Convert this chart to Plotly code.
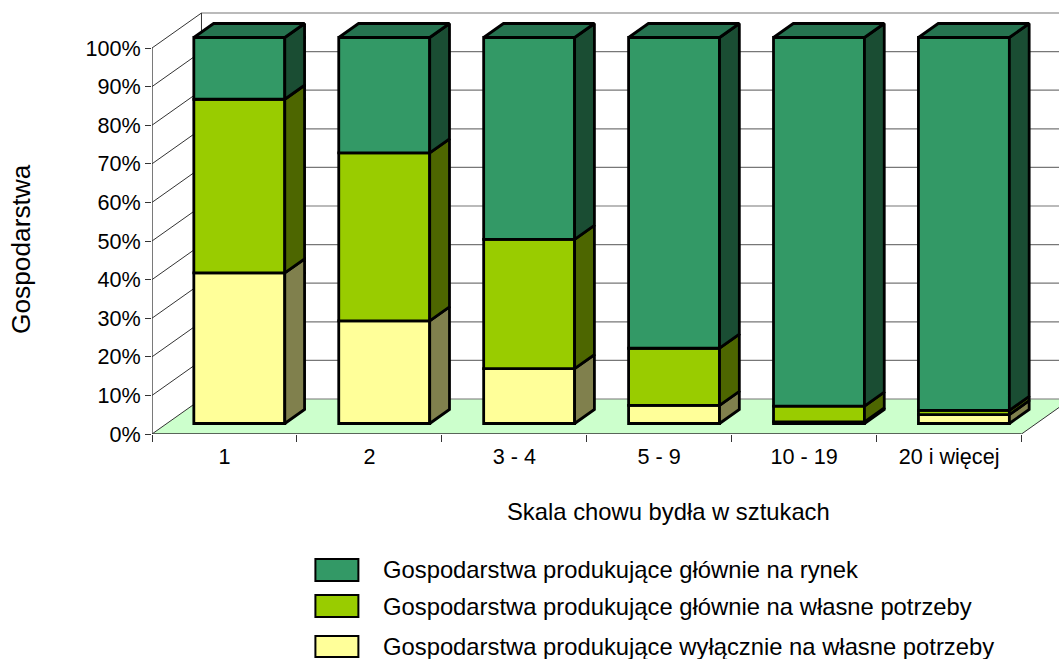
import plotly.graph_objects as go

categories = ["1", "2", "3 - 4", "5 - 9", "10 - 19", "20 i więcej"]
series_names = [
    "Gospodarstwa produkujące wyłącznie na własne potrzeby",
    "Gospodarstwa produkujące głównie na własne potrzeby",
    "Gospodarstwa produkujące głównie na rynek",
]
yellow_vals = [39.0, 26.6, 14.2, 4.7, 0.4, 2.3]
lime_vals = [45.0, 43.5, 33.5, 14.8, 4.1, 1.1]
teal_vals = [16.0, 29.9, 52.3, 80.5, 95.5, 96.6]
y_ticks = list(range(0, 101, 10))

front_cols = ["#FFFF99", "#99CC00", "#339966"]
side_cols = ["#80804D", "#4D6600", "#1A4D33"]
top_col = "#267350"
floor_col = "#CCFFCC"
FONT = "Liberation Sans"

# 3D projection, in axis units
W, H = 1059, 659
L, T, B = 151.5, 10, 225
PX_X, PX_Y = 145.0, 3.86
DX, DY = 49.5 / PX_X, 35.0 / PX_Y
F0, F1 = 0.30, 0.70
BAR_W = 91 / PX_X
X_MAX = (W - L) / PX_X
Y_MAX = (H - B - T) / PX_Y
n = len(categories)

all_vals = [yellow_vals, lime_vals, teal_vals]
fig = go.Figure()
xc = [i + 0.5 + F0 * DX for i in range(n)]
bases = [F0 * DY] * n
seg_bounds = []
for vals, name, col in zip(all_vals, series_names, front_cols):
    fig.add_bar(x=xc, y=vals, base=bases, width=BAR_W, name=name, showlegend=False,
                marker=dict(color=col, line=dict(color="#000000", width=2.8)))
    seg_bounds.append(list(bases))
    bases = [b + v for b, v in zip(bases, vals)]

d_x, d_y = (F1 - F0) * DX, (F1 - F0) * DY
line = dict(color="#000000", width=2.8)
for k, (vals, col) in enumerate(zip(all_vals, side_cols)):
    xs, ys = [], []
    for i in range(n):
        r = xc[i] + BAR_W / 2
        b0 = seg_bounds[k][i]
        b1 = b0 + vals[i]
        xs += [r, r + d_x, r + d_x, r, r, None]
        ys += [b0, b0 + d_y, b1 + d_y, b1, b0, None]
    fig.add_scatter(x=xs, y=ys, mode="lines", fill="toself", fillcolor=col, line=line,
                    showlegend=False, hoverinfo="skip")

xs, ys = [], []
for i in range(n):
    l, r = xc[i] - BAR_W / 2, xc[i] + BAR_W / 2
    t = seg_bounds[2][i] + teal_vals[i]
    xs += [l, l + d_x, r + d_x, r, l, None]
    ys += [t, t + d_y, t + d_y, t, t, None]
fig.add_scatter(x=xs, y=ys, mode="lines", fill="toself", fillcolor=top_col, line=line,
                showlegend=False, hoverinfo="skip")

# axis lines
fig.add_scatter(x=[0, 0, n], y=[y_ticks[-1], 0, 0], mode="lines", cliponaxis=False,
                line=dict(color="#333333", width=1.3), showlegend=False, hoverinfo="skip")

shapes = []
shapes.append(dict(type="path", layer="below", xref="x", yref="y", fillcolor=floor_col,
                   line=dict(width=0),
                   path=f"M0,0 L{DX},{DY} L{n + DX},{DY} L{n},0 Z"))
for v in y_ticks:
    shapes.append(dict(type="line", layer="below", xref="x", yref="y", x0=0, y0=v, x1=DX, y1=v + DY,
                       line=dict(color="#333333", width=1)))
    shapes.append(dict(type="line", layer="below", xref="x", yref="y", x0=DX, y0=v + DY, x1=n + DX, y1=v + DY,
                       line=dict(color="#777777", width=1.2)))
shapes.append(dict(type="line", layer="below", xref="x", yref="y", x0=DX, y0=DY, x1=DX, y1=y_ticks[-1] + DY,
                   line=dict(color="#333333", width=1)))
shapes.append(dict(type="line", layer="below", xref="x", yref="y", x0=n, y0=0, x1=n + DX, y1=DY,
                   line=dict(color="#333333", width=1)))


def px(x):
    return (x - L) / (W - L)


def py(y):
    return (H - B - y) / (H - B - T)


# legend
legend_rows = [(2, 559, 581, 569), (1, 595, 617, 606), (0, 636, 657, 646)]
annotations = []
for k, y0, y1, yt in legend_rows:
    shapes.append(dict(type="rect", xref="x domain", yref="y domain",
                       x0=px(315), x1=px(358), y0=py(y1), y1=py(y0),
                       fillcolor=front_cols[k], line=dict(color="#000000", width=2)))
    annotations.append(dict(xref="x domain", yref="y domain", showarrow=False, xanchor="left", yanchor="middle",
                            x=px(381), y=py(yt), text=series_names[k],
                            font=dict(family=FONT, size=23.8, color="#000000")))
annotations.append(dict(xref="x domain", yref="y domain", showarrow=False, xanchor="center", yanchor="middle",
                        x=px(668), y=py(511), text="Skala chowu bydła w sztukach",
                        font=dict(family=FONT, size=23.8, color="#000000")))
annotations.append(dict(xref="x domain", yref="y domain", showarrow=False, textangle=-90,
                        xanchor="center", yanchor="middle", x=px(20.5), y=py(249), text="Gospodarstwa",
                        font=dict(family=FONT, size=26.3, color="#000000")))

fig.update_layout(
    width=W, height=H, margin=dict(l=L, r=0, t=T, b=B, pad=0, autoexpand=False),
    paper_bgcolor="#FFFFFF", plot_bgcolor="#FFFFFF", barmode="overlay", showlegend=False,
    shapes=shapes, annotations=annotations,
    font=dict(family=FONT, size=21.6, color="#000000"),
    xaxis=dict(range=[0, X_MAX], tickmode="array", tickvals=[i + 0.5 for i in range(n)], ticktext=categories,
               ticks="outside", ticklen=3, tickcolor="rgba(0,0,0,0)", showgrid=False, zeroline=False, showline=False,
               tickfont=dict(family=FONT, size=21.6),
               minor=dict(tickmode="array", tickvals=list(range(n + 1)), ticks="outside", ticklen=7,
                          tickcolor="#333333", tickwidth=1, showgrid=False)),
    yaxis=dict(range=[0, Y_MAX], tickmode="array", tickvals=y_ticks, ticktext=[f"{v}%" for v in y_ticks],
               ticks="outside", ticklen=6, tickcolor="#333333", tickwidth=1, showgrid=False, zeroline=False,
               showline=False, tickfont=dict(family=FONT, size=21.6)),
)
fig.write_html("out.html", config={"displayModeBar": False},
               post_script="document.body.style.margin='0';document.body.style.overflow='hidden';")
